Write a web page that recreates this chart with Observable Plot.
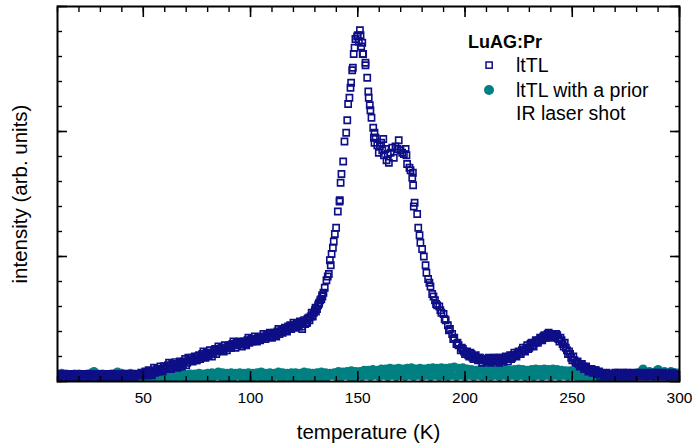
<!DOCTYPE html>
<html>
<head>
<meta charset="utf-8">
<script src="https://cdn.jsdelivr.net/npm/d3@7"></script>
<script src="https://cdn.jsdelivr.net/npm/@observablehq/plot@0.6"></script>
<style>
  html, body { margin: 0; padding: 0; background: #fff; }
  #wrap { position: relative; width: 692px; height: 446px; font-family: "Liberation Sans", Arial, Helvetica, sans-serif; }
  #legend { position: absolute; left: 0; top: 0; pointer-events: none; }
</style>
</head>
<body>
<div id="wrap"></div>
<script>
// ---- data ----
const title = "LuAG:Pr";
const seriesNames = ["ltTL", "ltTL with a prior", "IR laser shot"];
const xLabel = "temperature (K)";
const yLabel = "intensity (arb. units)";
const xTickLabels = [50, 100, 150, 200, 250, 300];
const xMinorTicks = [10,20,30,40,50,60,70,80,90,100,110,120,130,140,150,160,170,180,190,200,210,220,230,240,250,260,270,280,290,300];
const yMajorTicks = [0, 1, 2, 3];
const yMinorTicks = [0,0.2,0.4,0.6,0.8,1,1.2,1.4,1.6,1.8,2,2.2,2.4,2.6,2.8,3];

// ltTL (open squares): [temperature K, intensity]
const ltTL = [
[10,.05],[11,.04],[12,.06],[13,.03],[14,.05],[15,.03],[16,.05],[17,.06],[18,.04],[19,.05],[20,.03],[21,.06],[22,.05],[23,.03],[24,.05],[25,.04],[26,.06],[27,.05],[28,.03],[29,.05],[30,.06],[31,.04],[32,.05],[33,.03],[34,.05],[35,.06],[36,.04],[37,.05],[38,.03],[39,.06],[40,.05],[41,.04],[42,.06],[43,.04],[44,.05],[45,.06],[46,.04],[47,.06],[48,.05],[49,.07],[50,.05],
[10.5,.04],[11.5,.06],[12.5,.03],[13.5,.05],[14.5,.06],[15.5,.04],[16.5,.03],[17.5,.05],[18.5,.06],[19.5,.04],[20.5,.05],[21.5,.03],[22.5,.06],[23.5,.05],[24.5,.04],[25.5,.06],[26.5,.03],[27.5,.05],[28.5,.06],[29.5,.04],[30.5,.05],[31.5,.03],[32.5,.06],[33.5,.05],[34.5,.04],[35.5,.05],[36.5,.06],[37.5,.03],[38.5,.05],[39.5,.04],[40.5,.06],[41.5,.05],[42.5,.04],[43.5,.06],[44.5,.05],[45.5,.04],[46.5,.06],[47.5,.05],[48.5,.06],[49.5,.05],
[51,.08],[52,.05],[53,.08],[54,.05],[55,.11],[56,.09],[57,.08],[58,.12],[59,.08],[60,.12],[61,.11],[62,.15],[63,.10],[64,.13],[65,.155],[66,.11],[67,.16],[68,.12],[69,.16],[70,.13],[71,.19],[72,.17],[73,.16],[74,.20],[75,.17],[76,.21],[77,.19],[78,.24],[79,.19],[80,.22],[81,.25],[82,.20],[83,.25],[84,.22],[85,.28],[86,.25],[87,.25],[88,.29],[89,.25],[90,.29],[91,.27],[92,.32],[93,.27],[94,.29],[95,.32],[96,.28],[97,.32],[98,.29],[99,.35],[100,.33],[101,.32],[102,.36],[103,.32],[104,.35],[105,.34],[106,.38],[107,.34],[108,.36],[109,.39],[110,.35],[111,.39],[112,.36],[113,.42],[114,.40],[115,.39],[116,.43],[117,.40],[118,.43],[119,.42],[120,.47],[121,.43],[122,.45],[123,.48],[124,.44],[125,.49],[126,.47],[127,.51],[128,.52],[129,.52],[130,.57],[131,.58],[132,.63],[133,.66],[134,.71],
[50.5,.07],[51.5,.05],[52.5,.09],[53.5,.06],[54.5,.08],[55.5,.07],[56.5,.10],[57.5,.09],[58.5,.09],[59.5,.12],[60.5,.10],[61.5,.13],[62.5,.11],[63.5,.14],[64.5,.12],[65.5,.14],[66.5,.13],[67.5,.15],[68.5,.14],[69.5,.18],[70.5,.15],[71.5,.17],[72.5,.19],[73.5,.18],[74.5,.17],[75.5,.20],[76.5,.18],[77.5,.22],[78.5,.20],[79.5,.23],[80.5,.21],[81.5,.23],[82.5,.22],[83.5,.26],[84.5,.24],[85.5,.26],[86.5,.27],[87.5,.24],[88.5,.27],[89.5,.28],[90.5,.27],[91.5,.30],[92.5,.29],[93.5,.31],[94.5,.30],[95.5,.30],[96.5,.31],[97.5,.30],[98.5,.33],[99.5,.31],[100.5,.34],[101.5,.34],[102.5,.33],[103.5,.35],[104.5,.33],[105.5,.36],[106.5,.35],[107.5,.37],[108.5,.38],[109.5,.36],[110.5,.38],[111.5,.37],[112.5,.40],[113.5,.38],[114.5,.41],[115.5,.42],[116.5,.41],[117.5,.44],[118.5,.45],[119.5,.44],[120.5,.45],[121.5,.46],[122.5,.44],[123.5,.47],[124.5,.48],[125.5,.46],[126.5,.50],[127.5,.49],[128.5,.55],[129.5,.55],[130.5,.56],[131.5,.61],[132.5,.65],[133.5,.68],
[124.1,.42],[126.4,.47],[128.8,.53],[130.3,.59],[131.8,.62],[133.4,.69],
[134.6,.75],[135.4,.81],[136,.84],[136.5,.86],[137,.97],[137.4,.93],[137.8,1.02],[138.4,1.07],[138.8,1.12],[139.3,1.18],[139.9,1.23],[140.7,1.36],[141.5,1.44],[141.6,1.45],[142,1.59],[142.4,1.66],[143.2,1.76],[143.8,1.92],[144.6,1.99],[145.1,2.09],[145.5,2.22],[146.1,2.27],[146.6,2.35],[146.9,2.39],[147.4,2.49],[147.7,2.51],[148.1,2.62],[148.5,2.67],[148.9,2.74],[149.7,2.76],[150,2.77],[150.5,2.72],[151,2.81],[151.3,2.77],[151.6,2.68],[152.1,2.71],[152.3,2.62],[152.5,2.62],[153.6,2.55],[153.6,2.53],[154.4,2.43],[154.9,2.32],[155.1,2.27],[155.6,2.21],[155.9,2.17],[156.4,2.11],[157.2,2.03],[157.5,1.95],[157.8,1.99],[157.8,1.91],[158.3,1.95],[159.1,1.89],[159.8,1.83],[160.3,1.88],[160.9,1.91],[161.4,1.85],[161.9,1.94],[162.2,1.81],[162.9,1.86],[163.4,1.77],[164,1.82],[164.5,1.75],[165.3,1.83],[166.1,1.87],[166.8,1.79],[167.6,1.88],[168.4,1.86],[169.1,1.93],[169.9,1.85],[170.7,1.83],[171.5,1.82],[172.3,1.86],[172.7,1.81],[173,1.74],[174.1,1.71],[174.6,1.69],[175.4,1.63],[175.7,1.67],[175.8,1.57],[176.1,1.40],[176.5,1.43],[177.7,1.34],[178.2,1.23],[178.8,1.17],[179.2,1.11],[180,1.06],[180.8,1.0],[181.6,.93],[182,.87],[182.8,.82],[183.4,.79],[183.9,.76],[184.7,.70],[185.3,.68],
[186,.65],[186.5,.62],[187,.61],[188,.60],[188.5,.57],[189,.55],[190,.54],[190.5,.50],[191,.49],[192,.45],[192.5,.41],[193,.42],[194,.38],[194.5,.34],[195,.35],[196,.30],[196.5,.31],[197,.29],[198,.25],[198.5,.27],[199,.26],[200,.22],[201,.24],[202,.20],[203,.22],[204,.18],[205,.21],[206,.17],[207,.19],[208,.15],[209,.18],[210,.16],[211,.19],[212,.15],[213,.18],[214,.16],[215,.19],[216,.15],[217,.18],[218,.17],[219,.20],[220,.16],[221,.21],[222,.19],[223,.23],[224,.20],[225,.24],[226,.22],[227,.27],[228,.24],[229,.29],[230,.27],[231,.31],[232,.28],[233,.33],[234,.31],[235,.35],[236,.33],[237,.37],[238,.35],[239,.39],[240,.36],[241,.38],[242,.36],[243,.37],[244,.32],[245,.33],[246,.28],[247,.27],[248,.22],[249,.22],[250,.17],[251,.17],[252,.15],[253,.14],[254,.13],[255,.12],[256,.11],[257,.10],[258,.09],[259,.10],[260,.08],[261,.09],[262,.07],[263,.04],[264,.06],[265,.05],[266,.07],[267,.04],[268,.06],[269,.05],[270,.07],[271,.04],[272,.06],[273,.05],[274,.07],[275,.04],[276,.05],[277,.06],[278,.04],[279,.06],[280,.05],[281,.07],[282,.04],[283,.05],[284,.06],[285,.04],[286,.06],[287,.05],[288,.07],[289,.04],[290,.05],[291,.06],[292,.04],[293,.05],[294,.06],[295,.04],[296,.05],[297,.06],[298,.04],[299,.05],[300,.05],
[199.5,.24],[200.5,.23],[201.5,.21],[202.5,.23],[203.5,.19],[204.5,.20],[205.5,.18],[206.5,.19],[207.5,.17],[208.5,.18],[209.5,.17],[210.5,.18],[211.5,.16],[212.5,.17],[213.5,.19],[214.5,.17],[215.5,.17],[216.5,.19],[217.5,.16],[218.5,.19],[219.5,.18],[220.5,.19],[221.5,.18],[222.5,.21],[223.5,.21],[224.5,.23],[225.5,.22],[226.5,.25],[227.5,.25],[228.5,.27],[229.5,.26],[230.5,.30],[231.5,.29],[232.5,.31],[233.5,.32],[234.5,.33],[235.5,.34],[236.5,.36],[237.5,.35],[238.5,.38],[239.5,.37],[240.5,.37],[241.5,.35],[242.5,.38],[243.5,.34],[244.5,.35],[245.5,.30],[246.5,.31],[247.5,.25],[248.5,.24],[249.5,.19],[250.5,.20],[251.5,.15],[252.5,.16],[253.5,.12],[254.5,.14],[255.5,.10],[256.5,.12],[257.5,.08],[258.5,.10],[259.5,.07],[260.5,.09],[261.5,.06],[262.5,.08],[263.5,.06],[264.5,.04],[265.5,.06],[266.5,.05],[267.5,.06],[268.5,.04],[269.5,.06],[270.5,.05],[271.5,.07],[272.5,.04],[273.5,.06],[274.5,.05],[275.5,.07],[276.5,.04],[277.5,.05],[278.5,.07],[279.5,.04],[280.5,.06],[281.5,.05],[282.5,.06],[283.5,.04],[284.5,.07],[285.5,.05],[286.5,.04],[287.5,.06],[288.5,.05],[289.5,.07],[290.5,.04],[291.5,.05],[292.5,.07],[293.5,.04],[294.5,.06],[295.5,.05],[296.5,.07],[297.5,.04],[298.5,.06],[299.5,.05]
];

// ltTL with a prior IR laser shot (filled circles): [temperature K, intensity]
const ltTLIR = [
[10,.06],[11,.03],[12,.065],[13,.04],[14,.06],[15,.03],[16,.055],[17,.04],[18,.06],[19,.03],[20,.06],[21,.04],[22,.055],[23,.03],[24,.06],[25,.04],[26,.07],[27,.08],[28,.04],[29,.06],[30,.03],[31,.06],[32,.04],[33,.055],[34,.03],[35,.06],[36,.04],[37,.065],[38,.075],[39,.04],[40,.065],[41,.03],[42,.06],[43,.04],[44,.065],[45,.03],[46,.06],[47,.04],[48,.055],[49,.03],[50,.06],
[51,.04],[52,.055],[53,.03],[54,.06],[55,.04],[56,.05],[57,.03],[58,.055],[59,.04],[60,.05],[61,.03],[62,.055],[63,.04],[64,.05],[65,.03],[66,.055],[67,.04],[68,.06],[69,.03],[70,.055],[71,.04],[72,.06],[73,.03],[74,.06],[75,.04],[76,.065],[77,.03],[78,.06],[79,.04],[80,.065],[81,.03],[82,.07],[83,.04],[84,.065],[85,.075],[86,.04],[87,.07],[88,.03],[89,.065],[90,.04],[91,.07],[92,.03],[93,.065],[94,.05],[95,.07],[96,.03],[97,.065],[98,.04],[99,.07],[100,.03],
[101,.065],[102,.04],[103,.07],[104,.04],[105,.075],[106,.03],[107,.065],[108,.04],[109,.07],[110,.03],[111,.065],[112,.05],[113,.075],[114,.03],[115,.07],[116,.04],[117,.065],[118,.04],[119,.07],[120,.03],[121,.07],[122,.04],[123,.065],[124,.04],[125,.075],[126,.03],[127,.07],[128,.04],[129,.065],[130,.03],[131,.07],[132,.04],[133,.075],[134,.03],[135,.07],[136,.04],[137,.065],[138,.05],[139,.07],[140,.04],
[141,.08],[142,.03],[143,.075],[144,.05],[145,.08],[146,.04],[147,.085],[148,.03],[149,.08],[150,.05],[151,.08],[152,.04],[153,.09],[154,.05],[155,.09],[156,.04],[157,.095],[158,.05],[159,.09],[160,.04],[161,.1],[162,.05],[163,.1],[164,.04],[165,.105],[166,.05],[167,.1],[168,.04],[169,.105],[170,.05],[171,.1],[172,.04],[173,.105],[174,.05],[175,.11],[176,.04],[177,.1],[178,.05],[179,.105],[180,.04],[181,.1],[182,.05],[183,.105],[184,.04],[185,.11],[186,.05],[187,.105],[188,.04],[189,.11],[190,.05],[191,.105],[192,.04],[193,.11],[194,.05],[195,.115],[196,.04],[197,.105],[198,.05],[199,.11],[200,.04],
[201,.1],[202,.05],[203,.095],[204,.04],[205,.09],[206,.05],[207,.095],[208,.04],[209,.09],[210,.05],[211,.095],[212,.04],[213,.09],[214,.05],[215,.095],[216,.04],[217,.09],[218,.05],[219,.095],[220,.04],[221,.09],[222,.05],[223,.095],[224,.04],[225,.1],[226,.05],[227,.095],[228,.04],[229,.09],[230,.05],[231,.095],[232,.04],[233,.1],[234,.05],[235,.095],[236,.04],[237,.1],[238,.05],[239,.095],[240,.04],[241,.1],[242,.05],[243,.095],[244,.04],[245,.09],[246,.05],[247,.085],[248,.04],[249,.085],[250,.05],
[251,.08],[252,.04],[253,.07],[254,.03],[255,.06],[256,.03],[257,.05],[258,.02],[259,.035],[260,.02],[261,.01],[262,.02],[263,.03],[264,.02],[265,.03],[266,.02],[267,.03],[268,.02],[269,.03],[270,.02],[271,.03],[272,.02],[273,.03],[274,.02],[275,.03],[276,.02],[277,.04],[278,.03],[279,.05],[280,.04],[281,.06],[282,.08],[283,.1],[284,.07],[285,.05],[286,.08],[287,.06],[288,.04],[289,.08],[290,.095],[291,.07],[292,.05],[293,.08],[294,.06],[295,.04],[296,.08],[297,.06],[298,.07],[299,.05],[300,.07]
];

// ---- styles ----
const navy = "#0e0e86";
const teal = "#008080";
const font = '"Liberation Sans", Arial, Helvetica, sans-serif';

const chart = Plot.plot({
  width: 692,
  height: 446,
  marginLeft: 57,
  marginRight: 13,
  marginTop: 6,
  marginBottom: 65,
  style: { fontFamily: font, background: "#fff", color: "#000", overflow: "visible" },
  x: { domain: [10, 300], label: null },
  y: { domain: [0, 3], label: null },
  marks: [
    Plot.dot(ltTLIR, { x: d => d[0], y: d => d[1], r: 4.6, fill: teal, stroke: "none", clip: true }),
    Plot.dot(ltTL, { x: d => d[0], y: d => d[1], symbol: "square", r: 3.5, stroke: navy, strokeWidth: 1.6, fill: "none", clip: true }),
    // inward ticks
    Plot.axisX(xMinorTicks, { anchor: "bottom", tickSize: -5, tickFormat: () => "", label: null, strokeWidth: 1.4 }),
    Plot.axisX(xTickLabels, { anchor: "bottom", tickSize: -10, tickFormat: () => "", label: null, strokeWidth: 1.6 }),
    Plot.axisX(xMinorTicks, { anchor: "top", tickSize: -5, tickFormat: () => "", label: null, strokeWidth: 1.4 }),
    Plot.axisX(xTickLabels, { anchor: "top", tickSize: -10, tickFormat: () => "", label: null, strokeWidth: 1.6 }),
    Plot.axisY(yMinorTicks, { anchor: "left", tickSize: -5, tickFormat: () => "", label: null, strokeWidth: 1.4 }),
    Plot.axisY(yMajorTicks, { anchor: "left", tickSize: -10, tickFormat: () => "", label: null, strokeWidth: 1.6 }),
    Plot.axisY(yMinorTicks, { anchor: "right", tickSize: -5, tickFormat: () => "", label: null, strokeWidth: 1.4 }),
    Plot.axisY(yMajorTicks, { anchor: "right", tickSize: -10, tickFormat: () => "", label: null, strokeWidth: 1.6 }),
    // tick labels
    Plot.axisX(xTickLabels, { anchor: "bottom", tickSize: 0, tickPadding: 10, fontSize: 15.5, label: null, tickFormat: d => String(d) }),
    Plot.frame({ stroke: "#000", strokeWidth: 2 }),
    Plot.text([xLabel], { text: d => d, frameAnchor: "bottom", textAnchor: "middle", lineAnchor: "middle", dy: 51, fontSize: 20.5, fill: "#000" }),
    Plot.text([yLabel], { text: d => d, frameAnchor: "left", textAnchor: "middle", lineAnchor: "middle", dx: -37, rotate: -90, fontSize: 20.5, fill: "#000" })
  ]
});

const wrap = document.getElementById("wrap");
wrap.appendChild(chart);

// legend overlay
const ns = "http://www.w3.org/2000/svg";
const leg = document.createElementNS(ns, "svg");
leg.setAttribute("id", "legend");
leg.setAttribute("width", 692);
leg.setAttribute("height", 446);
function txt(x, y, s, size, weight) {
  const t = document.createElementNS(ns, "text");
  t.setAttribute("x", x); t.setAttribute("y", y);
  t.setAttribute("font-size", size);
  t.setAttribute("font-family", font);
  if (weight) t.setAttribute("font-weight", weight);
  t.textContent = s;
  leg.appendChild(t);
}
txt(468, 48.3, title, 18, "bold");
const sq = document.createElementNS(ns, "rect");
sq.setAttribute("x", 486); sq.setAttribute("y", 62); sq.setAttribute("width", 6.2); sq.setAttribute("height", 6.2);
sq.setAttribute("fill", "none"); sq.setAttribute("stroke", navy); sq.setAttribute("stroke-width", 1.5);
leg.appendChild(sq);
txt(516, 71.8, seriesNames[0], 19.5);
const ci = document.createElementNS(ns, "circle");
ci.setAttribute("cx", 489); ci.setAttribute("cy", 90); ci.setAttribute("r", 5);
ci.setAttribute("fill", teal);
leg.appendChild(ci);
txt(516, 96.8, seriesNames[1], 19.5);
txt(516, 119.5, seriesNames[2], 19.5);
wrap.appendChild(leg);
</script>
</body>
</html>
